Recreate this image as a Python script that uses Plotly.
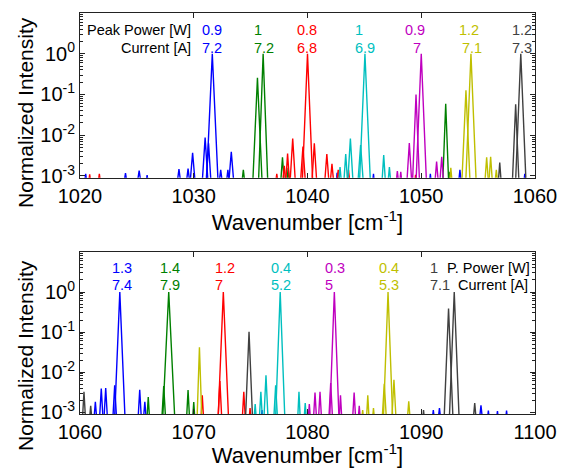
import plotly.graph_objects as go

# ---------------- data ----------------
# each peak: (center wavenumber [cm-1], log10 normalized intensity, half base width [cm-1])
FLOOR = 8e-4  # below the visible range, peaks start/end here

top_blue = [(1020.5, -2.95, 0.07), (1024.0, -2.93, 0.09), (1025.2, -2.87, 0.12), (1025.9, -2.98, 0.06),
            (1028.7, -2.83, 0.12), (1029.5, -2.82, 0.12), (1029.9, -2.43, 0.2), (1031.0, -2.06, 0.24),
            (1031.3, -2.2, 0.2), (1031.63, 0.0, 0.5), (1032.37, -2.85, 0.11), (1033.0, -2.85, 0.1),
            (1033.3, -2.41, 0.2), (1042.6, -2.92, 0.05), (1045.8, -2.95, 0.05), (1050.8, -2.95, 0.05),
            (1053.4, -2.85, 0.09), (1059.1, -2.95, 0.05)]
top_green = [(1034.36, -2.85, 0.1), (1035.6, -0.59, 0.4), (1036.1, 0.0, 0.4), (1037.8, -2.54, 0.14),
             (1038.3, -2.8, 0.09), (1052.15, -1.23, 0.25), (1052.45, -2.9, 0.06)]
top_red = [(1020.85, -2.96, 0.06), (1021.7, -2.95, 0.07), (1037.3, -2.95, 0.07), (1037.96, -2.75, 0.12),
           (1038.25, -2.45, 0.15), (1038.7, -2.08, 0.22), (1039.6, -2.28, 0.2), (1040.0, 0.0, 0.45),
           (1040.6, -2.2, 0.2), (1041.7, -2.46, 0.17), (1042.15, -2.7, 0.13), (1042.7, -2.85, 0.1),
           (1043.6, -2.85, 0.1), (1049.5, -2.97, 0.05)]
top_cyan = [(1042.86, -2.78, 0.1), (1043.36, -2.46, 0.15), (1043.77, -2.08, 0.22), (1044.67, -2.24, 0.22),
            (1045.05, 0.0, 0.47), (1046.7, -2.49, 0.14), (1047.2, -2.78, 0.1)]
top_magenta = [(1047.9, -2.88, 0.08), (1048.2, -2.9, 0.07), (1048.95, -2.19, 0.2), (1049.54, -1.0, 0.3),
               (1050.0, 0.0, 0.45), (1051.35, -2.65, 0.13), (1051.8, -2.53, 0.15)]
top_yellow = [(1052.6, -2.8, 0.09), (1053.93, -0.9, 0.35), (1054.37, 0.0, 0.45), (1055.75, -2.54, 0.14),
              (1056.1, -2.53, 0.14), (1056.6, -2.85, 0.09)]
top_black = [(1056.9, -2.67, 0.11), (1058.3, -1.24, 0.28), (1058.75, 0.0, 0.45)]

bot_black = [(1060.35, -2.49, 0.12), (1060.94, -2.84, 0.08), (1074.86, -0.99, 0.3), (1090.2, -2.95, 0.05),
             (1092.4, -0.41, 0.38), (1092.9, 0.0, 0.42), (1094.7, -2.77, 0.1)]
bot_blue = [(1061.35, -2.74, 0.1), (1061.87, -2.41, 0.14), (1062.26, -2.4, 0.14), (1063.05, -2.33, 0.15),
            (1063.5, 0.0, 0.45), (1065.25, -2.44, 0.13), (1065.7, -2.74, 0.1), (1076.0, -2.95, 0.05),
            (1091.06, -2.95, 0.06), (1091.6, -2.9, 0.08), (1095.25, -2.83, 0.1), (1095.9, -2.96, 0.05),
            (1096.7, -2.97, 0.05), (1097.5, -2.96, 0.05)]
bot_green = [(1066.0, -2.62, 0.1), (1067.36, -2.35, 0.15), (1067.8, 0.0, 0.52), (1069.5, -2.45, 0.12),
             (1070.0, -2.75, 0.08)]
bot_yellow = [(1070.5, -1.38, 0.2), (1084.85, -2.95, 0.05), (1085.3, -2.58, 0.1), (1085.8, -2.9, 0.06),
              (1086.75, -2.29, 0.17), (1087.08, 0.0, 0.4), (1087.6, -2.19, 0.17), (1088.9, -2.73, 0.1)]
bot_red = [(1070.75, -2.58, 0.1), (1072.3, -2.22, 0.15), (1072.6, 0.0, 0.45), (1074.4, -2.49, 0.12),
           (1074.95, -2.9, 0.06)]
bot_cyan = [(1075.4, -2.8, 0.08), (1075.9, -2.49, 0.12), (1076.35, -2.08, 0.17), (1077.2, -2.33, 0.15),
            (1077.6, 0.0, 0.4), (1079.25, -2.49, 0.1), (1079.8, -2.77, 0.08)]
bot_magenta = [(1080.16, -2.8, 0.08), (1080.66, -2.51, 0.12), (1081.1, -2.49, 0.12), (1082.04, -2.27, 0.15),
               (1082.36, 0.0, 0.4), (1082.9, -2.58, 0.1), (1084.1, -2.51, 0.12), (1084.55, -2.84, 0.07)]

# labels
top_power = ["0.9", "1", "0.8", "1", "0.9", "1.2", "1.2"]
top_current = ["7.2", "7.2", "6.8", "6.9", "7", "7.1", "7.3"]
top_power_x = [1030.55, 1035.1, 1038.9, 1044.0, 1048.4, 1053.15, 1057.8]
top_current_x = [1030.55, 1035.1, 1038.9, 1044.0, 1049.1, 1053.4, 1057.8]

bot_power = ["1.3", "1.4", "1.2", "0.4", "0.3", "0.4", "1"]
bot_current = ["7.4", "7.9", "7", "5.2", "5", "5.3", "7.1"]
bot_label_x = [1062.64, 1066.86, 1071.7, 1076.64, 1081.36, 1086.1, 1090.6]

C_BLUE, C_GREEN, C_RED = "#0000FF", "#008000", "#FF0000"
C_CYAN, C_MAG, C_YEL, C_BLK = "#00BFBF", "#BF00BF", "#BFBF00", "#404040"

top_series = [(top_blue, C_BLUE), (top_green, C_GREEN), (top_red, C_RED), (top_cyan, C_CYAN),
              (top_magenta, C_MAG), (top_yellow, C_YEL), (top_black, C_BLK)]
bot_series = [(bot_blue, C_BLUE), (bot_green, C_GREEN), (bot_red, C_RED), (bot_cyan, C_CYAN),
              (bot_magenta, C_MAG), (bot_yellow, C_YEL), (bot_black, C_BLK)]
label_colors = [C_BLUE, C_GREEN, C_RED, C_CYAN, C_MAG, C_YEL, C_BLK]

FONT = "Arial, Liberation Sans, sans-serif"

fig = go.Figure()


def add_series(peaks, color, xa, ya):
    xs, ys = [], []
    for c, e, hw in peaks:
        xs += [c - hw, c, c + hw, None]
        ys += [FLOOR, 10 ** e, FLOOR, None]
    fig.add_trace(go.Scatter(x=xs, y=ys, mode="lines", xaxis=xa, yaxis=ya,
                             line=dict(color=color, width=1.4), showlegend=False,
                             connectgaps=False, hoverinfo="skip"))


for peaks, col in top_series:
    add_series(peaks, col, "x", "y")
for peaks, col in bot_series:
    add_series(peaks, col, "x2", "y2")

minor_vals = [m * 10 ** d for d in (-3, -2, -1, 0) for m in range(2, 10)]

common_x = dict(ticks="inside", ticklen=5, mirror="ticks", showline=True, linecolor="#222",
                linewidth=1, tickcolor="#222", showgrid=False, zeroline=False, automargin=False,
                tickfont=dict(family=FONT, size=20, color="black"),
                title=dict(text="Wavenumber [cm<sup>-1</sup>]", font=dict(family=FONT, size=22, color="black"),
                           standoff=8))
common_y = dict(type="log", range=[-3.046, 1], tickmode="array",
                tickvals=[1e-3, 1e-2, 1e-1, 1],
                ticktext=["10<sup>-3</sup>", "10<sup>-2</sup>", "10<sup>-1</sup>", "10<sup>0</sup>"],
                ticks="inside", ticklen=5, mirror="ticks", showline=True, linecolor="#222",
                linewidth=1, tickcolor="#222", showgrid=False, zeroline=False, automargin=False,
                minor=dict(tickmode="array", tickvals=minor_vals, ticks="inside", ticklen=3,
                           tickcolor="#222", showgrid=False),
                tickfont=dict(family=FONT, size=20, color="black"))

# the page body adds an 8 px offset, so the figure is 8 px smaller than the window
fig.update_layout(
    width=562, height=460,
    margin=dict(l=72, r=35, t=5, b=54, autoexpand=False),
    paper_bgcolor="white", plot_bgcolor="white",
    xaxis=dict(domain=[0, 1], anchor="y", range=[1020, 1060],
               tickvals=[1020, 1030, 1040, 1050, 1060], **common_x),
    yaxis=dict(domain=[0.589, 1], anchor="x", **common_y),
    xaxis2=dict(domain=[0, 1], anchor="y2", range=[1060, 1100],
                tickvals=[1060, 1070, 1080, 1090, 1100], **common_x),
    yaxis2=dict(domain=[0, 0.404], anchor="x2", **common_y),
)

ann = []
LF = 14.5
TF = dict(family=FONT, size=21, color="black")
# y-axis titles
ann.append(dict(x=-0.121, y=0.753, xref="paper", yref="paper", text="Normalized Intensity",
                textangle=-90, xanchor="center", yanchor="middle", showarrow=False, font=TF))
ann.append(dict(x=-0.121, y=0.147, xref="paper", yref="paper", text="Normalized Intensity",
                textangle=-90, xanchor="center", yanchor="middle", showarrow=False, font=TF))
# top panel labels
ann.append(dict(x=1029.95, y=0.957, xref="x", yref="paper", text="Peak Power [W]", xanchor="right",
                yanchor="middle", showarrow=False, font=dict(family=FONT, size=LF, color="black")))
ann.append(dict(x=1029.95, y=0.912, xref="x", yref="paper", text="Current [A]", xanchor="right",
                yanchor="middle", showarrow=False, font=dict(family=FONT, size=LF, color="black")))
for i in range(len(top_power)):
    ann.append(dict(x=top_power_x[i], y=0.957, xref="x", yref="paper", text=top_power[i],
                    xanchor="left", yanchor="middle", showarrow=False,
                    font=dict(family=FONT, size=LF, color=label_colors[i])))
    ann.append(dict(x=top_current_x[i], y=0.912, xref="x", yref="paper", text=top_current[i],
                    xanchor="left", yanchor="middle", showarrow=False,
                    font=dict(family=FONT, size=LF, color=label_colors[i])))
# bottom panel labels
for i in range(len(bot_power)):
    ann.append(dict(x=bot_label_x[i], y=0.364, xref="x2", yref="paper", text=bot_power[i],
                    xanchor="left", yanchor="middle", showarrow=False,
                    font=dict(family=FONT, size=LF, color=label_colors[i])))
    ann.append(dict(x=bot_label_x[i], y=0.322, xref="x2", yref="paper", text=bot_current[i],
                    xanchor="left", yanchor="middle", showarrow=False,
                    font=dict(family=FONT, size=LF, color=label_colors[i])))
ann.append(dict(x=1099.75, y=0.364, xref="x2", yref="paper", text="P. Power [W]", xanchor="right",
                yanchor="middle", showarrow=False, font=dict(family=FONT, size=LF, color="black")))
ann.append(dict(x=1099.6, y=0.322, xref="x2", yref="paper", text="Current [A]", xanchor="right",
                yanchor="middle", showarrow=False, font=dict(family=FONT, size=LF, color="black")))
fig.update_layout(annotations=ann)

fig.write_html("out.html")
